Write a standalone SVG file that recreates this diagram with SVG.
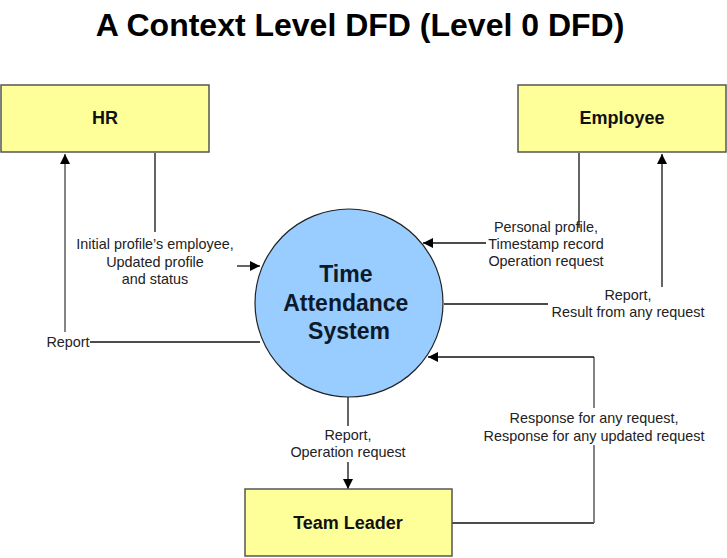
<svg xmlns="http://www.w3.org/2000/svg" width="727" height="558" viewBox="0 0 727 558">
<style>
.box{fill:#ffff99;stroke:#555;stroke-width:1.5}
.bt{font-family:"Liberation Sans",Arial,sans-serif;font-weight:bold;font-size:18px;fill:#111;text-anchor:middle}
.lbl{font-family:"Liberation Sans",Arial,sans-serif;font-size:14.4px;fill:#222;text-anchor:middle}
.ln{fill:none;stroke:#111;stroke-width:1.3}
.lg{fill:none;stroke:#666;stroke-width:1.6}
</style>
<defs>
<marker id="ah" viewBox="0 0 10 10" refX="10" refY="5" markerWidth="10" markerHeight="10" markerUnits="userSpaceOnUse" orient="auto">
<path d="M0,0 L10,5 L0,10 z" fill="#000"/>
</marker>
<marker id="ahb" viewBox="0 0 10 10" refX="10" refY="5" markerWidth="14" markerHeight="10" markerUnits="userSpaceOnUse" orient="auto">
<path d="M0,0 L10,5 L0,10 z" fill="#000"/>
</marker>
</defs>
<rect width="727" height="558" fill="#fff"/>
<text x="360" y="36" font-family="Liberation Sans,Arial,sans-serif" font-weight="bold" font-size="32" text-anchor="middle" fill="#000">A Context Level DFD (Level 0 DFD)</text>

<g id="connectors">
<!-- HR to system -->
<path class="ln" d="M155,153 V232"/>
<path class="ln" d="M237,266 H260" marker-end="url(#ah)"/>
<!-- System to HR report -->
<path class="ln" d="M90,342 H260"/>
<path class="lg" d="M65,332 V154" marker-end="url(#ahb)"/>
<!-- Employee to system -->
<path class="ln" d="M579,153 V228"/>
<path class="ln" d="M486,243 H423" marker-end="url(#ahb)"/>
<!-- System to Employee -->
<path class="ln" d="M444,304 H548"/>
<path class="ln" d="M662,287 V154" marker-end="url(#ahb)"/>
<!-- System to Team Leader -->
<path class="ln" d="M348,397 V426"/>
<path class="ln" d="M348,462 V489" marker-end="url(#ahb)"/>
<!-- Team Leader to system -->
<path class="ln" d="M452,523 H594"/>
<path class="lg" d="M594,523 V445"/>
<path class="lg" d="M594,408 V357"/>
<path class="ln" d="M594,357 H428" marker-end="url(#ahb)"/>
</g>

<g id="hr">
<rect class="box" x="1" y="85" width="208" height="67"/>
<text class="bt" x="105" y="124">HR</text>
</g>
<g id="employee">
<rect class="box" x="518" y="85" width="208" height="67"/>
<text class="bt" x="622" y="124">Employee</text>
</g>
<g id="team-leader">
<rect class="box" x="245" y="489" width="207" height="67"/>
<text class="bt" x="348" y="529">Team Leader</text>
</g>
<g id="system">
<circle cx="349" cy="303" r="94" fill="#99ccff" stroke="#222" stroke-width="1.2"/>
<text font-family="Liberation Sans,Arial,sans-serif" font-weight="bold" font-size="23" text-anchor="middle" fill="#0d1a2b">
<tspan x="349" y="282">Time</tspan>
<tspan x="349" y="311">Attendance</tspan>
<tspan x="349" y="339">System</tspan>
</text>
</g>

<g id="labels">
<text class="lbl"><tspan x="155" y="249">Initial profile’s employee,</tspan><tspan x="155" y="267">Updated profile</tspan><tspan x="155" y="284">and status</tspan></text>
<text class="lbl" x="68" y="347">Report</text>
<text class="lbl"><tspan x="546" y="232">Personal profile,</tspan><tspan x="546" y="249">Timestamp record</tspan><tspan x="546" y="266">Operation request</tspan></text>
<text class="lbl"><tspan x="628" y="300">Report,</tspan><tspan x="628" y="317">Result from any request</tspan></text>
<text class="lbl"><tspan x="348" y="440">Report,</tspan><tspan x="348" y="457">Operation request</tspan></text>
<text class="lbl"><tspan x="594" y="423">Response for any request,</tspan><tspan x="594" y="441">Response for any updated request</tspan></text>
</g>
</svg>
